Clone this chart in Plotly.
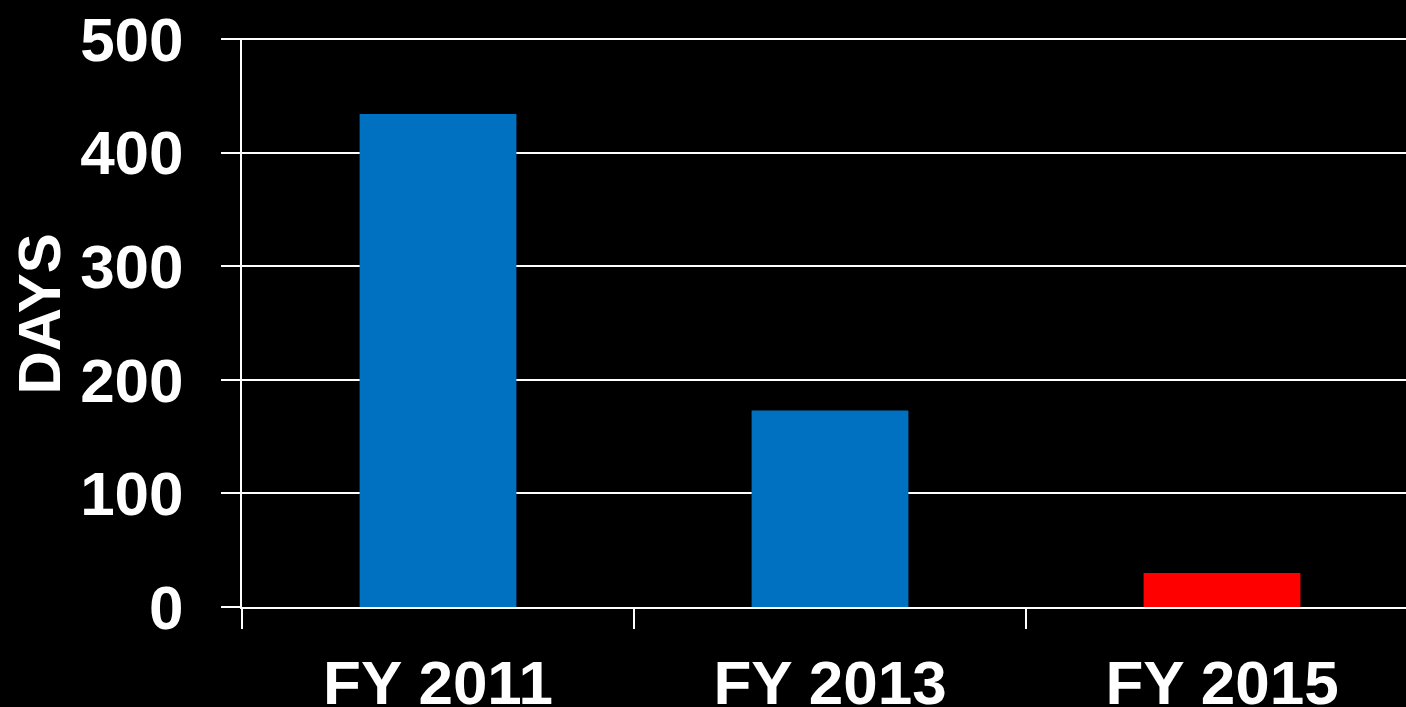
import plotly.graph_objects as go

categories = ["FY 2011", "FY 2013", "FY 2015"]
days = [434, 173, 30]
bar_colors = ["#0070C0", "#0070C0", "#FF0000"]
y_ticks = [0, 100, 200, 300, 400, 500]

FONT = "Liberation Sans, Arial, sans-serif"

fig = go.Figure(
    go.Bar(
        x=categories,
        y=days,
        width=0.4,
        marker=dict(color=bar_colors, line=dict(width=0)),
        hoverinfo="x+y",
    )
)

fig.update_layout(
    width=1406,
    height=707,
    margin=dict(l=242, r=0, t=38, b=100),
    paper_bgcolor="black",
    plot_bgcolor="black",
    showlegend=False,
    font=dict(family=FONT, color="white"),
)

fig.update_xaxes(
    type="category",
    range=[-0.5, 2.4694],
    tickson="boundaries",
    ticks="outside",
    ticklen=20,
    tickwidth=2,
    tickcolor="white",
    showline=True,
    linecolor="white",
    linewidth=2,
    showgrid=False,
    zeroline=False,
    tickfont=dict(family=FONT, size=62, color="white", weight="bold"),
    ticklabelstandoff=21,
    automargin=False,
)

fig.update_yaxes(
    range=[0, 501],
    tickvals=y_ticks,
    ticks="outside",
    ticklen=19,
    tickwidth=2,
    tickcolor="white",
    showline=True,
    linecolor="white",
    linewidth=2,
    showgrid=True,
    gridcolor="white",
    gridwidth=2,
    zeroline=False,
    tickfont=dict(family=FONT, size=62, color="white", weight="bold"),
    ticklabelstandoff=25,
    automargin=False,
)

fig.add_annotation(
    text="DAYS",
    textangle=-90,
    xref="paper",
    yref="paper",
    x=(39 - 242) / 1164,
    y=(607 - 314.5) / 569,
    xanchor="center",
    yanchor="middle",
    showarrow=False,
    font=dict(family=FONT, size=60, color="white", weight="bold"),
)

fig.write_html(
    "out.html",
    config={"displayModeBar": False},
    post_script="document.body.style.margin='0';document.body.style.background='black';",
)
